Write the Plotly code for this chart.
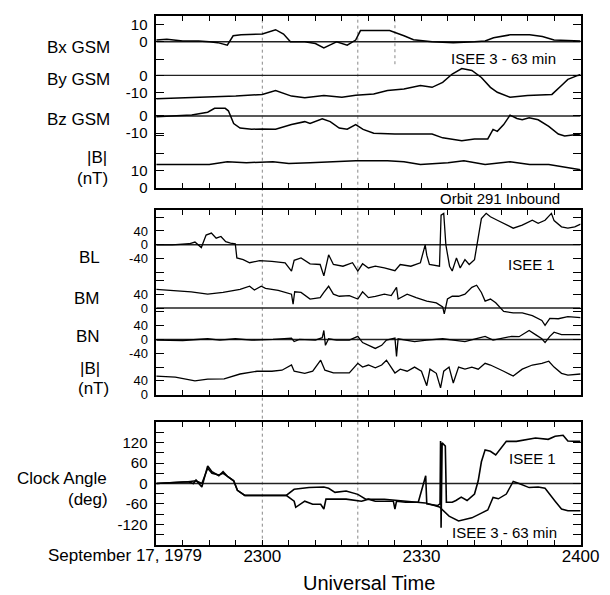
import plotly.graph_objects as go

W, H = 610, 595

# ---------------- DATA (time = minutes after 22:40 UT, Sept 17 1979) ----------------
t_range = [0, 80]
x_tick_t = [0, 5, 10, 15, 20, 25, 30, 35, 40, 45, 50, 55, 60, 65, 70, 75, 80]
x_tick_lbl = {20: "2300", 50: "2330", 80: "2400"}
marker_t_long = [20, 38]      # dotted lines 2300 and ~2318
marker_t_short = [45]         # dotted line ~2325 (top panel only)

# Panel 1 : ISEE 3 (63 min lag), GSM, nT
bx_t = [0, 2, 5, 8, 10, 11.6, 13.4, 14.5, 16, 20, 22.5, 24, 25.3, 28, 30, 31.6, 33, 34, 36, 37.6, 38.5,
        44, 46.7, 48.5, 52, 56, 60, 62, 63.6, 66.7, 70.4, 72.8, 75, 79, 80]
bx = [1, 1.5, 0.5, 0.5, 0, -0.5, -2, 3.5, 4, 4.5, 7, 4.5, 0, 0, -1, -3.5, -1.5, 0, -2, 1, 6.5,
      6.5, 3.5, 1.2, 0, -0.5, 0, 0.5, 2.3, 4, 4, 3, 1, 0.5, 0.5]

by_t = [0, 5, 9.7, 15, 20, 22.5, 25.5, 28, 31.6, 35, 37.6, 41, 43.6, 46.7, 49.8, 52, 54, 55.8, 57.6,
        59.5, 61.3, 63, 64.3, 66.7, 70, 74.6, 76.4, 77.6, 79.5, 80]
by = [-13.5, -13, -12.7, -12, -11, -8.7, -12, -13, -11.6, -12.7, -11.5, -10.8, -8.7, -7.9, -5.8, -6.9,
      -4, 0.8, 4, 2.9, -1.2, -6.9, -9.8, -12.7, -11.6, -11, -5.8, -2.3, 0, 0.5]

bz_t = [0, 6.7, 9.7, 11, 13, 13.6, 14.6, 15.8, 18, 20, 22.5, 25.5, 28, 29, 31.3, 32.8, 34.5, 36, 37.6,
        39, 41, 45, 50, 52, 54, 57.6, 60, 62.5, 63.5, 64.3, 65.5, 66.7, 68, 69, 70.3, 72, 74, 75.8,
        77, 79.5, 80]
bz = [-0.5, 0.5, 2.2, 4.4, 4.4, 3, -4.4, -7, -7.7, -7.5, -7.7, -5, -3.3, -4.4, -1.6, -3.3, -7, -7.7,
      -5, -7.8, -10, -10.5, -10.5, -10.5, -12.7, -14.4, -13.3, -13.3, -7.8, -8.9, -5, 0.5, -1.5,
      -2.2, -1, -2.2, -6, -10.5, -11.6, -10.5, -10.5]

b3_t = [0, 10, 13.4, 17, 22, 25, 29, 36, 37.6, 43.6, 46.7, 49.8, 55, 58, 62, 66.7, 70.4, 74, 77.6,
        79.5, 80]
b3 = [13.3, 13.3, 15, 14.4, 15, 13.9, 14.4, 15.5, 15.5, 15.5, 15, 13.3, 14.4, 15.5, 13.3, 15, 13.3,
      13.3, 11.7, 10.5, 10.3]

# Panel 2 : ISEE 1, boundary-normal coordinates, nT
bl_t = [0, 3, 6.2, 7.3, 8.5, 9.4, 10.4, 11.3, 12.2, 13.1, 14, 14.9, 15.2, 16.4, 17.6, 19.5, 21.8,
        24.3, 25.5, 26, 27.3, 29, 30.9, 31.6, 32.5, 33.4, 35.2, 37, 38, 38.9, 40, 41.3, 43, 45, 46,
        48, 49.8, 50.7, 51, 51.5, 53.4, 53.7, 54.2, 54.6, 55.3, 55.8, 56.6, 57.3, 58.2, 59, 60, 60.7,
        61.3, 62.2, 63, 64.3, 65.5, 67.3, 69, 70.9, 72, 73.3, 74.5, 75, 76.4, 77.6, 78.9, 80]
bl = [0, 0, 3, 8, -8, 28, 34, 19, 24, 9, 5, 3, -38, -43, -52, -46, -48, -52, -76, -45, -38, -55,
      -57, -90, -29, -57, -62, -52, -76, -55, -67, -62, -67, -75, -57, -62, -52, 0, -30, -57, -62,
      86, 91, 0, -62, -76, -38, -67, -43, -57, -43, 19, 76, 91, 81, 71, 62, 48, 57, 71, 62, 71, 91,
      70, 52, 48, 52, 60]

bm_t = [0, 3.6, 6.6, 9.7, 12.6, 15.8, 17.6, 18.5, 19.8, 20.6, 23, 25.5, 25.8, 26.1, 27.3, 29, 30.9,
        31.6, 32.5, 33.4, 34.5, 36.4, 38, 38.9, 40, 41.3, 43, 44.3, 45.3, 45.6, 47.3, 49, 51, 52.8,
        54, 54.3, 54.9, 55.8, 57, 58.2, 59.5, 60.4, 61.3, 62, 63, 64, 65.5, 67.3, 69, 70.9, 72.7,
        73.3, 74.2, 75.8, 77.6, 80]
bm = [54, 51, 47, 40, 45, 54, 63, 52, 63, 57, 51, 40, 11, 47, 45, 26, 30, 45, 63, 40, 34, 36, 26,
      47, 30, 34, 40, 36, 60, 26, 40, 30, 20, 15, 3, -17, 26, 34, 34, 40, 60, 66, 45, 20, 26, 15,
      -10, -14, -14, -22, -36, -50, -30, -31, -25, -28]

bn_t = [0, 5, 9.7, 12, 14.9, 18, 22, 25.5, 26, 27, 30, 31.3, 31.6, 31.9, 32.5, 34, 36.4, 38, 38.9,
        40, 41.3, 42.5, 43.4, 45, 45.3, 45.6, 47, 48.7, 51, 54, 56, 58.2, 60.7, 62, 63.5, 65.5, 67,
        68.4, 70.3, 71.5, 72.7, 73.3, 74.2, 75, 76.4, 77.6, 80]
bn = [-2, -3, 2, -2, 2, -2, 0, 4, -6, 0, -2, 5, 26, -17, 2, -2, -2, 9, -9, -17, -26, -17, -2, 4,
      -49, 2, -2, -6, -2, 2, -2, -6, 4, 9, -2, 4, 9, 8, 26, 14, 2, -9, 9, 21, 14, 14, 14]

b1_t = [0, 3.6, 7.3, 9.7, 12.8, 14.5, 15.8, 19, 21.8, 23.7, 25.5, 26, 28, 29.5, 31, 31.8, 33.4,
        35.2, 36.4, 38, 38.9, 40, 41.3, 42.5, 43.4, 45, 46, 47.3, 48.7, 50, 51, 51.6, 52.8, 53.6,
        54.2, 55.2, 56, 57, 58.2, 59.5, 60.7, 62, 63, 65.5, 67.3, 69, 70.9, 72.7, 74, 75, 76.4,
        77.6, 80]
b1 = [54, 51, 40, 45, 46, 54, 60, 68, 68, 71, 86, 68, 62, 68, 100, 71, 63, 63, 63, 91, 80, 86, 78,
      86, 100, 63, 74, 68, 80, 68, 26, 74, 62, 20, 68, 80, 34, 80, 74, 80, 74, 91, 86, 68, 54, 74,
      86, 91, 97, 80, 62, 57, 60]

# Panel 3 : clock angle, degrees
ca1_t = [0, 3, 6, 7, 7.5, 8.6, 9.7, 10.5, 11.8, 12.6, 13.5, 14.6, 15.3, 16.7, 18, 20.3, 23, 24.5,
         26, 26.3, 28, 29.5, 31, 31.6, 32, 33.7, 35.8, 38.7, 40, 41.3, 43, 44.7, 45, 45.3, 47, 49.4,
         50.8, 51, 53, 53.5, 53.6, 53.7, 53.9, 54.5, 54.7, 55.8, 56.5, 57.5, 58.6, 60, 60.7, 61.3,
         62, 63, 64, 64.9, 66, 67.9, 69.7, 71.5, 73.9, 75.2, 76.7, 77.6, 79.5, 80]
ca1 = [0, 2, 5, 0, 10, -10, 52, 35, 23, 35, 20, 8, -20, -35, -35, -35, -35, -35, -52, -70, -52,
       -61, -61, -75, -46, -46, -46, -52, -46, -52, -52, -52, -75, -52, -55, -55, 23, -60, -65,
       -60, 125, -130, 120, 110, -55, -55, -50, -40, -50, -31, 8, 64, 99, 95, 84, 101, 124, 124,
       128, 134, 130, 139, 142, 125, 124, 124]

ca3_t = [0, 3, 6, 7.5, 8.6, 9.7, 10.5, 11.8, 12.6, 13.5, 14.6, 15.3, 16.7, 18, 20.3, 23, 24.5, 26,
         28.8, 31.6, 32.5, 33.7, 35.8, 38, 39.5, 43, 46.5, 50.7, 53.4, 55.2, 57, 59.5, 61.3, 62.5,
         63.5, 64.5, 66, 67.3, 68.4, 70.3, 72, 73.3, 75.2, 76.4, 77.6, 80]
ca3 = [0, 2, 5, 8, 0, 45, 30, 25, 30, 20, 8, -20, -35, -35, -35, -35, -35, -17, -12, -10, -14, -26,
       -22, -32, -46, -46, -52, -57, -69, -96, -110, -101, -87, -78, -41, -45, -31, 6, 0, -12, -10,
       -14, -52, -75, -80, -80]

# stacking offsets (axis units) and tick definitions
p1_off = {"Bx": 84.5, "By": 65, "Bz": 41.5, "B": 0}
p1_ticks = {"Bx": ([10, 0, -10], ["10", "0", ""]),
            "By": ([0, -10], ["0", "-10"]),
            "Bz": ([10, 0, -10], ["", "0", "-10"]),
            "B": ([30, 20, 10, 0], ["", "", "10", "0"])}
p2_off = {"BL": 434, "BM": 251, "BN": 160, "B": 0}
p2_ticks = {"BL": ([80, 40, 0, -40, -80], ["", "40", "0", "-40", ""]),
            "BM": ([80, 40, 0], ["", "40", "0"]),
            "BN": ([80, 40, 0, -40], ["", "40", "0", "-40"]),
            "B": ([120, 80, 40, 0], ["", "", "40", "0"])}
p3_tickvals = [-150, -120, -90, -60, -30, 0, 30, 60, 90, 120, 150]
p3_ticktext = ["", "-120", "", "-60", "", "0", "", "60", "", "120", ""]

# ---------------- LAYOUT GEOMETRY (pixels) ----------------
X0, X1 = 153, 591
P1 = (8, 182)
P2 = (205, 392)
P3 = (420, 544)
FONT = "Liberation Sans, Arial, sans-serif"


def pyf(px):
    return 1 - px / H


fig = go.Figure()


def add_line(t, v, off, ax, width=1.2):
    fig.add_trace(go.Scatter(x=t, y=[a + off for a in v], mode="lines",
                             line=dict(color="black", width=width),
                             xaxis=ax[0], yaxis=ax[1], hoverinfo="skip"))


def add_zero(off, ax):
    fig.add_trace(go.Scatter(x=t_range, y=[off, off], mode="lines",
                             line=dict(color="#222", width=1.4),
                             xaxis=ax[0], yaxis=ax[1], hoverinfo="skip"))


ax1, ax2, ax3 = ("x", "y"), ("x2", "y2"), ("x3", "y3")

for k in ["Bx", "By", "Bz"]:
    add_zero(p1_off[k], ax1)
add_line(bx_t, bx, p1_off["Bx"], ax1, 1.5)
add_line(by_t, by, p1_off["By"], ax1, 1.5)
add_line(bz_t, bz, p1_off["Bz"], ax1, 1.5)
add_line(b3_t, b3, p1_off["B"], ax1, 1.5)

for k in ["BL", "BM", "BN"]:
    add_zero(p2_off[k], ax2)
add_line(bl_t, bl, p2_off["BL"], ax2, 1.3)
add_line(bm_t, bm, p2_off["BM"], ax2, 1.3)
add_line(bn_t, bn, p2_off["BN"], ax2, 1.3)
add_line(b1_t, b1, p2_off["B"], ax2, 1.3)

add_zero(0, ax3)
add_line(ca3_t, ca3, 0, ax3, 1.5)
add_line(ca1_t, ca1, 0, ax3, 1.6)


def stacked_ticks(offs, ticks):
    vals, txt = [], []
    for k, (v, l) in ticks.items():
        vals += [a + offs[k] for a in v]
        txt += l
    return vals, txt


y1v, y1t = stacked_ticks(p1_off, p1_ticks)
y2v, y2t = stacked_ticks(p2_off, p2_ticks)

xcommon = dict(range=t_range, domain=[X0 / W, X1 / W], showline=True, linecolor="black",
               linewidth=1.5, mirror="ticks", ticks="inside", ticklen=5, tickwidth=1,
               tickcolor="black", tickmode="array", tickvals=x_tick_t, showgrid=False,
               zeroline=False, tickfont=dict(family=FONT, size=17, color="black"))
ycommon = dict(showline=True, linecolor="black", linewidth=1.5, mirror="ticks", ticks="inside",
               ticklen=8, tickwidth=1.2, tickcolor="black", tickmode="array", showgrid=False,
               zeroline=False, tickfont=dict(family=FONT, size=15, color="black"),
               ticklabelstandoff=4)

fig.update_layout(
    width=W, height=H, margin=dict(l=0, r=0, t=0, b=0),
    paper_bgcolor="white", plot_bgcolor="white", showlegend=False,
    xaxis=dict(xcommon, anchor="y", ticktext=[""] * len(x_tick_t)),
    xaxis2=dict(xcommon, anchor="y2", ticktext=[""] * len(x_tick_t)),
    xaxis3=dict(xcommon, anchor="y3",
                ticktext=[x_tick_lbl.get(v, "") for v in x_tick_t], ticklabelstandoff=-5),
    yaxis=dict(ycommon, anchor="x", domain=[pyf(P1[1]), pyf(P1[0])], range=[0, 99.5],
               tickvals=y1v, ticktext=y1t),
    yaxis2=dict(ycommon, anchor="x2", domain=[pyf(P2[1]), pyf(P2[0])], range=[0, 534],
                tickvals=y2v, ticktext=y2t,
                tickfont=dict(family=FONT, size=13, color="black")),
    yaxis3=dict(ycommon, anchor="x3", domain=[pyf(P3[1]), pyf(P3[0])], range=[-180, 180],
                tickvals=p3_tickvals, ticktext=p3_ticktext),
)

for tm in marker_t_long:
    fig.add_shape(type="line", xref="x3", yref="paper", x0=tm, x1=tm, y0=pyf(P3[1]),
                  y1=pyf(P1[0]), line=dict(color="#888", width=1, dash="dot"), layer="below")
for tm in marker_t_short:
    fig.add_shape(type="line", xref="x", yref="paper", x0=tm, x1=tm, y0=pyf(57),
                  y1=pyf(P1[0]), line=dict(color="#888", width=1, dash="dot"), layer="below")

# text labels: (text, x_px, y_px, anchor, size)
labels = [
    ("Bx GSM", 107, 40, "right", 17), ("By GSM", 107, 72, "right", 17),
    ("Bz GSM", 107, 113, "right", 17), ("|B|", 104, 152, "right", 17),
    ("(nT)", 105, 173, "right", 17),
    ("BL", 97, 253, "right", 17), ("BM", 97, 294, "right", 17), ("BN", 97, 333, "right", 17),
    ("|B|", 97, 365, "right", 17), ("(nT)", 106, 386, "right", 17),
    ("Clock Angle", 104, 477, "right", 17), ("(deg)", 105, 498, "right", 17),
    ("September 17, 1979", 121, 555, "center", 17),
    ("Universal Time", 373, 583, "center", 20),
    ("ISEE 3 - 63 min", 511, 51, "center", 15),
    ("Orbit 291 Inbound", 508, 193, "center", 15),
    ("ISEE 1", 540, 260, "center", 15),
    ("ISEE 1", 541, 457, "center", 15),
    ("ISEE 3 - 63 min", 512, 532, "center", 15),
]
for txt, xp, yp, anc, sz in labels:
    fig.add_annotation(text=txt, xref="paper", yref="paper", x=xp / W, y=pyf(yp),
                       xanchor=anc, yanchor="middle", showarrow=False,
                       font=dict(family=FONT, size=sz, color="black"))

fig.write_html("out.html")
